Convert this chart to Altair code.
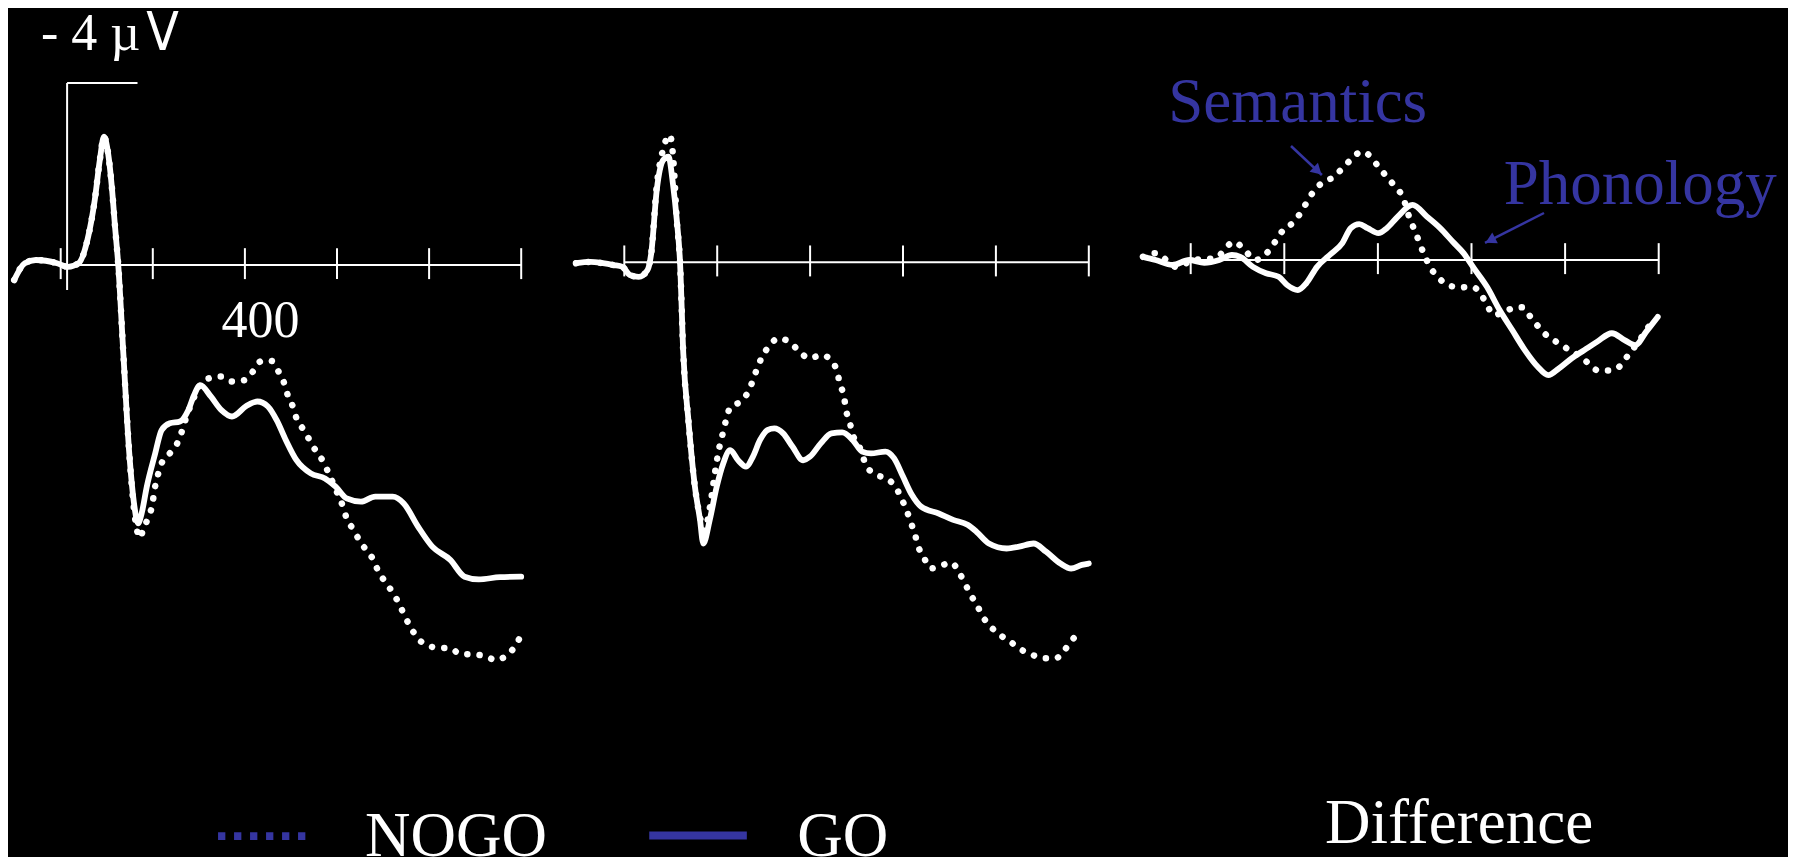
import altair as alt
import pandas as pd

# ---------------- data: (time in ms, amplitude in µV; negative is drawn up) -------------
P1_GO = [(-101, 0.33), (-78, -0.04), (-54, -0.11), (-8, -0.04), (16, 0.04), (39, -0.04),
         (58, -0.55), (74, -1.43), (85, -2.31), (94, -2.82), (103, -2.45), (111, -1.72),
         (118, -0.84), (125, 0.0), (136, 1.94), (149, 4.15), (160, 5.3), (168, 5.68),
         (176, 5.45), (187, 4.87), (205, 4.15), (219, 3.63), (237, 3.48), (259, 3.44),
         (277, 3.19), (290, 2.85), (303, 2.64), (326, 2.89), (349, 3.19), (372, 3.33),
         (403, 3.10), (427, 3.00), (450, 3.11), (469, 3.41), (489, 3.85), (512, 4.29),
         (543, 4.58), (574, 4.69), (597, 4.87), (621, 5.13), (652, 5.20), (683, 5.09),
         (721, 5.09), (745, 5.24), (776, 5.75), (807, 6.19), (846, 6.48), (877, 6.85),
         (908, 6.91), (954, 6.86), (1000, 6.85)]

P1_NOGO = [(-101, 0.33), (-78, -0.04), (-54, -0.11), (-8, -0.04), (16, 0.04), (39, -0.04),
           (58, -0.55), (74, -1.43), (85, -2.31), (94, -2.82), (103, -2.45), (111, -1.72),
           (118, -0.84), (125, 0.0), (136, 1.94), (149, 4.15), (162, 5.6), (172, 6.0),
           (179, 5.82), (190, 5.55), (198, 5.31), (205, 4.87), (212, 4.58), (219, 4.36),
           (237, 4.14), (253, 3.92), (263, 3.66), (272, 3.37), (287, 2.97), (303, 2.64),
           (322, 2.49), (349, 2.45), (372, 2.56), (400, 2.53), (419, 2.32), (434, 2.12),
           (458, 2.11), (473, 2.34), (485, 2.59), (493, 2.86), (504, 3.11), (512, 3.37),
           (528, 3.63), (555, 4.10), (570, 4.32), (582, 4.58), (601, 5.02), (613, 5.31),
           (621, 5.57), (636, 5.82), (648, 6.04), (663, 6.26), (679, 6.48), (690, 6.74),
           (706, 6.98), (721, 7.20), (735, 7.45), (745, 7.67), (758, 7.93), (773, 8.17),
           (793, 8.35), (818, 8.41), (844, 8.42), (869, 8.55), (894, 8.56), (921, 8.59),
           (944, 8.68), (967, 8.59), (986, 8.39), (1000, 8.13)]

P2_GO = [(-104, 0.02), (-73, -0.01), (-46, 0.02), (-23, 0.06), (-4, 0.10), (12, 0.28),
         (31, 0.32), (50, 0.17), (58, -0.2), (70, -1.6), (84, -2.25), (95, -2.32),
         (105, -1.7), (113, -0.93), (120, 0.0), (127, 2.0), (138, 3.47), (152, 4.93),
         (163, 5.66), (170, 6.18), (184, 5.66), (199, 4.93), (213, 4.42), (228, 4.13),
         (245, 4.35), (262, 4.49), (277, 4.27), (292, 3.91), (308, 3.69), (323, 3.65),
         (342, 3.76), (362, 4.05), (385, 4.35), (400, 4.27), (423, 3.98), (446, 3.76),
         (469, 3.74), (492, 3.91), (512, 4.16), (531, 4.20), (562, 4.16), (581, 4.31),
         (600, 4.71), (619, 5.11), (639, 5.37), (677, 5.52), (708, 5.66), (739, 5.77),
         (758, 5.92), (785, 6.18), (823, 6.29), (850, 6.25), (881, 6.18), (908, 6.36),
         (939, 6.62), (962, 6.73), (985, 6.65), (1000, 6.62)]

P2_NOGO = [(-104, 0.02), (-73, -0.01), (-46, 0.02), (-23, 0.06), (-4, 0.10), (12, 0.28),
           (31, 0.32), (50, 0.17), (58, -0.2), (70, -1.7), (84, -2.5), (98, -2.80),
           (106, -2.2), (113, -0.93), (120, 0.0), (127, 2.0), (138, 3.47), (152, 4.93),
           (163, 5.6), (172, 5.9), (184, 5.4), (195, 4.64), (202, 4.2), (213, 3.72),
           (219, 3.47), (228, 3.19), (250, 3.06), (267, 2.84), (277, 2.59), (286, 2.33),
           (296, 2.09), (312, 1.84), (332, 1.67), (358, 1.77), (377, 1.96), (398, 2.11),
           (425, 2.04), (446, 2.16), (458, 2.40), (465, 2.70), (473, 2.95), (477, 3.23),
           (485, 3.50), (491, 3.76), (506, 4.05), (522, 4.49), (543, 4.67), (568, 4.77),
           (586, 4.97), (598, 5.22), (608, 5.46), (617, 5.72), (626, 5.99), (633, 6.25),
           (645, 6.49), (659, 6.73), (681, 6.67), (704, 6.60), (721, 6.82), (733, 7.05),
           (746, 7.31), (760, 7.55), (772, 7.79), (789, 8.01), (809, 8.19), (831, 8.34),
           (854, 8.51), (879, 8.63), (902, 8.70), (929, 8.70), (948, 8.52), (964, 8.30),
           (984, 8.10)]

P3_GO = [(-102, -0.07), (-75, 0.0), (-39, 0.11), (-3, 0.0), (29, 0.06), (61, 0.0),
         (88, -0.11), (106, -0.07), (133, 0.15), (161, 0.29), (188, 0.37), (206, 0.55),
         (229, 0.66), (247, 0.51), (270, 0.15), (297, -0.11), (324, -0.37), (342, -0.70),
         (360, -0.79), (378, -0.70), (401, -0.59), (419, -0.70), (442, -0.95), (474, -1.21),
         (505, -0.95), (533, -0.70), (560, -0.40), (583, -0.15), (605, 0.18), (633, 0.59),
         (660, 1.10), (687, 1.54), (714, 1.98), (741, 2.34), (764, 2.53), (787, 2.38),
         (814, 2.16), (841, 1.98), (868, 1.80), (900, 1.61), (927, 1.76), (950, 1.87),
         (973, 1.58), (998, 1.25)]

P3_NOGO = [(-102, -0.07), (-75, -0.15), (-30, 0.15), (6, 0.0), (52, -0.04), (93, -0.40),
           (115, -0.22), (138, 0.0), (165, -0.18), (183, -0.44), (201, -0.70), (218, -0.81),
           (233, -1.01), (247, -1.25), (262, -1.50), (280, -1.69), (306, -1.83), (321, -1.98),
           (342, -2.20), (365, -2.38), (385, -2.27), (401, -2.05), (419, -1.83), (437, -1.61),
           (453, -1.39), (469, -0.88), (480, -0.62), (489, -0.37), (501, -0.07), (513, 0.18),
           (528, 0.37), (551, 0.56), (578, 0.60), (601, 0.59), (619, 0.73), (633, 0.99),
           (648, 1.21), (669, 1.14), (689, 1.06), (710, 1.04), (728, 1.28), (746, 1.50),
           (764, 1.69), (787, 1.83), (809, 1.98), (832, 2.12), (850, 2.27), (871, 2.43),
           (896, 2.43), (923, 2.27), (937, 2.05), (955, 1.83), (973, 1.54), (995, 1.28)]

TICK_TIMES = [0, 200, 400, 600, 800, 1000]
CAL_UV = -4.0

# ---------------- layout / style ----------------
WHITE = "#ffffff"
BLUE = "#3535a1"
SERIF = "Liberation Serif"
W, H = 1780, 849
# each panel: time 0..1000 ms and 0..-4 µV mapped onto its own pixel span
X_DOMAIN = [0, 1000]
Y_DOMAIN = [0, -4]
X_RANGES = [[52.7, 513.2], [616.3, 1080.8], [1182.7, 1650.7]]
Y_RANGES = [[257.0, 75.0], [254.3, 72.3], [252.0, 70.0]]


def enc(i):
    xs = alt.Scale(domain=X_DOMAIN, range=X_RANGES[i], nice=False, zero=False)
    ys = alt.Scale(domain=Y_DOMAIN, range=Y_RANGES[i], nice=False, zero=False)
    return dict(x=alt.X("t:Q", scale=xs, axis=None), y=alt.Y("v:Q", scale=ys, axis=None))


def curve(points, i, dotted):
    df = pd.DataFrame(points, columns=["t", "v"])
    if dotted:
        mk = alt.Chart(df).mark_line(color=WHITE, strokeWidth=6.5, strokeDash=[0.1, 12.2],
                                     strokeCap="round", interpolate="monotone")
    else:
        mk = alt.Chart(df).mark_line(color=WHITE, strokeWidth=5.8, strokeCap="round",
                                     strokeJoin="round", interpolate="monotone")
    return mk.encode(**enc(i))


def rules(rows, i, **style):
    df = pd.DataFrame(rows, columns=["t", "t2", "v", "v2"])
    return alt.Chart(df).mark_rule(**style).encode(x2="t2:Q", y2="v2:Q", **enc(i))


def texts(rows, i, **style):
    df = pd.DataFrame(rows, columns=["label", "t", "v"])
    return alt.Chart(df).mark_text(baseline="alphabetic", **style).encode(
        text="label:N", **enc(i))


def heads(rows, i):
    df = pd.DataFrame(rows, columns=["t", "v", "angle"])
    return alt.Chart(df).mark_point(shape="triangle-up", filled=True, color=BLUE,
                                    size=150, opacity=1, strokeWidth=0).encode(
        angle=alt.Angle("angle:Q", scale=None), **enc(i))


def axis_layer(i):
    rows = [(0, 1000, 0, 0)] + [(t, t, -0.37, 0.31) for t in TICK_TIMES]
    return rules(rows, i, color=WHITE, strokeWidth=2)


layers = [
    # panel 1
    axis_layer(0),
    rules([(13.9, 13.9, CAL_UV, 0.55), (13.9, 166.8, CAL_UV, CAL_UV)], 0,
          color=WHITE, strokeWidth=2),
    curve(P1_NOGO, 0, True),
    curve(P1_GO, 0, False),
    texts([("- 4 µ", -42.8, -4.725)], 0, font=SERIF, fontSize=52, color=WHITE, align="left"),
    texts([("V", 186.0, -4.725)], 0,
          font="DejaVu Sans Condensed, Liberation Sans Narrow, Liberation Sans",
          fontSize=53, color=WHITE, align="left"),
    texts([("400", 434, 1.58)], 0, font=SERIF, fontSize=52, color=WHITE, align="center"),
    rules([(341.7, 531.6, 12.554, 12.554)], 0, color=BLUE, strokeWidth=7.7,
          strokeDash=[7.3, 8.7], strokeCap="butt"),
    texts([("NOGO", 660.8, 12.99)], 0, font=SERIF, fontSize=63, color=WHITE, align="left"),
    # panel 2
    axis_layer(1),
    curve(P2_NOGO, 1, True),
    curve(P2_GO, 1, False),
    rules([(53.7, 263.8, 12.60, 12.60)], 1, color=BLUE, strokeWidth=8, strokeCap="butt"),
    texts([("GO", 372.2, 13.05)], 1, font=SERIF, fontSize=63, color=WHITE, align="left"),
    # panel 3 (difference)
    axis_layer(2),
    curve(P3_NOGO, 2, True),
    curve(P3_GO, 2, False),
    rules([(214.3, 280.3, -2.505, -1.868), (754.9, 628.8, -1.033, -0.374)], 2,
          color=BLUE, strokeWidth=2.5),
    heads([(271.2, -1.958, 133), (640.2, -0.433, 243)], 2),
    texts([("Semantics", -48.1, -3.03), ("Phonology", 669.0, -1.24)], 2,
          font=SERIF, fontSize=63, color=BLUE, align="left"),
    texts([("Difference", 287.0, 12.81)], 2, font=SERIF, fontSize=63, color=WHITE, align="left"),
]

chart = alt.layer(*layers).resolve_scale(x="independent", y="independent").properties(
    width=W, height=H, padding=0, background="black",
    autosize=alt.AutoSizeParams(type="none"),
).configure_view(stroke=None)

chart.save("out.html", embed_options={"renderer": "svg", "actions": False})
